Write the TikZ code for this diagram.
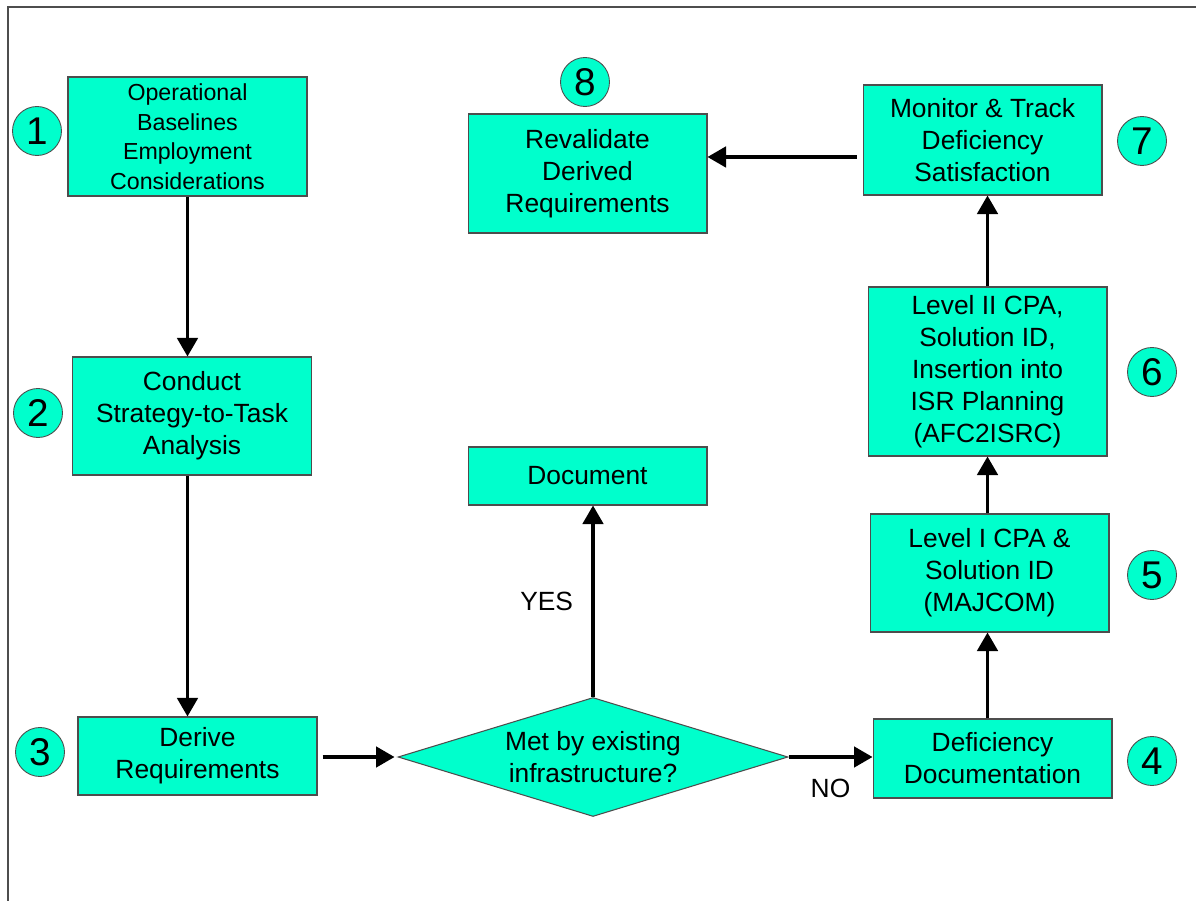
\documentclass[tikz,border=0pt]{standalone}
\usepackage{fontspec}
\setmainfont{Liberation Sans}
\usetikzlibrary{shapes.geometric,arrows.meta}
\definecolor{aqua}{HTML}{00FFCC}
\definecolor{edgegray}{HTML}{4D4D4D}

\begin{document}
\begin{tikzpicture}[x=0.02cm,y=-0.02cm]
\tikzstyle{every node}=[font=\fontsize{15}{18.2}\selectfont]
\tikzstyle{box}=[draw=edgegray, fill=aqua, line width=0.6pt, minimum width=4.78cm, align=center, inner sep=0pt]
\tikzstyle{num}=[circle, draw=edgegray, fill=aqua, line width=0.5pt, minimum size=0.98cm, inner sep=0pt, font=\fontsize{22}{22}\selectfont]
\tikzstyle{arr}=[line width=1.8pt, -{Triangle[length=0.37cm,width=0.41cm]}]

% Frame
\useasboundingbox (0,0) rectangle (1196,901);
\draw[edgegray, line width=1pt] (8,901) -- (8,7) -- (1196,7);

% Boxes
\node[box, minimum height=2.38cm, font=\fontsize{13.2}{16.8}\selectfont] (base) at (187.5,136.5) {Operational\\Baselines\\Employment\\Considerations};
\node[box, minimum height=2.36cm] (s2t) at (192,416) {Conduct\\Strategy-to-Task\\Analysis};
\node[box, minimum height=1.56cm] (derive) at (197.5,756) {Derive\\Requirements};
\node[diamond, draw=edgegray, fill=aqua, line width=0.6pt, aspect=3.3, minimum width=7.8cm, minimum height=2.38cm, inner sep=0pt, align=center] (met) at (593,757) {Met by existing\\infrastructure?};
\node[box, minimum height=1.16cm] (doc) at (587.5,476) {Document};
\node[box, minimum height=1.58cm] (defic) at (992.5,758.5) {Deficiency\\Documentation};
\node[box, minimum height=2.36cm] (lvl1) at (989.5,573) {Level I CPA \&\\Solution ID\\(MAJCOM)};
\node[box, minimum height=3.38cm] (lvl2) at (987.5,371.5) {Level II CPA,\\Solution ID,\\Insertion into\\ISR Planning\\(AFC2ISRC)};
\node[box, minimum height=2.2cm] (track) at (982.5,140) {Monitor \& Track\\Deficiency\\Satisfaction};
\node[box, minimum height=2.38cm] (reval) at (587.5,173.5) {Revalidate\\Derived\\Requirements};

% Step numbers
\node[num] (n1) at (37,131) {1};
\node[num] (n2) at (38,413) {2};
\node[num] (n3) at (40,752) {3};
\node[num] (n4) at (1152,761) {4};
\node[num] (n5) at (1152,575) {5};
\node[num] (n6) at (1152,372) {6};
\node[num] (n7) at (1142,141) {7};
\node[num] (n8) at (585,82) {8};

% Arrows
\draw[arr] (base.south) -- (base.south |- s2t.north);
\draw[arr] (base.south |- s2t.south) -- (base.south |- derive.north);
\draw[arr, shorten <=0.1cm, shorten >=0.06cm] (derive.east |- met.west) -- (met.west);
\draw[arr] (met.east) -- node[below=0.29cm] {NO} (met.east -| defic.west);
\draw[arr] (met.north) -- node[left=0.25cm] {YES} (met.north |- doc.south);
\draw[arr] (lvl2.south |- defic.north) -- (lvl2.south |- lvl1.south);
\draw[arr] (lvl2.south |- lvl1.north) -- (lvl2.south);
\draw[arr] (lvl2.north) -- (lvl2.north |- track.south);
\draw[arr, shorten <=0.12cm] ([yshift=-0.34cm]track.west) -- ([yshift=-0.34cm]track.west -| reval.east);

\end{tikzpicture}
\end{document}
